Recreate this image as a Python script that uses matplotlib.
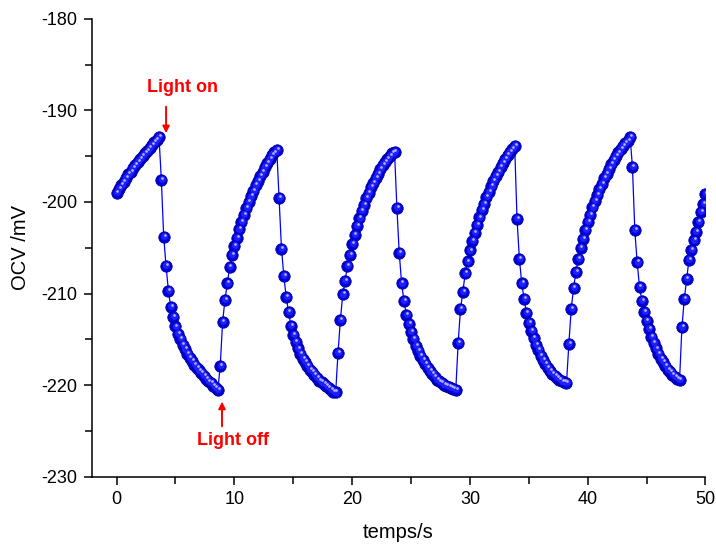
import numpy as np
import matplotlib
matplotlib.use("Agg")
import matplotlib.pyplot as plt
from matplotlib.ticker import MultipleLocator
from matplotlib.transforms import offset_copy

plt.rcParams["font.family"] = ["Liberation Sans", "DejaVu Sans"]
plt.rcParams["axes.unicode_minus"] = False

# sampling interval of the OCV recorder (s)
dt = 0.2

# OCV readings (mV), one list per light on / light off half cycle
rise_1 = [-199.0, -198.6, -198.2, -197.8, -197.4, -197.0, -196.7, -196.3, -196.0, -195.6,
          -195.3, -195.0, -194.7, -194.4, -194.1, -193.8, -193.5, -193.2, -192.9]
fall_1 = [-197.6, -203.8, -207.0, -209.7, -211.5, -212.6, -213.6, -214.4, -215.0, -215.6,
          -216.1, -216.6, -217.0, -217.4, -217.8, -218.1, -218.4, -218.7, -219.0, -219.3,
          -219.6, -219.8, -220.1, -220.3, -220.5]
rise_2 = [-217.9, -213.1, -210.7, -208.9, -207.1, -205.8, -204.8, -203.9, -203.0, -202.2,
          -201.4, -200.7, -200.0, -199.4, -198.8, -198.2, -197.7, -197.2, -196.7, -196.2,
          -195.7, -195.3, -194.9, -194.6, -194.3]
fall_2 = [-199.6, -205.1, -208.1, -210.4, -212.0, -213.5, -214.5, -215.3, -216.0, -216.6,
          -217.1, -217.5, -217.9, -218.3, -218.6, -218.9, -219.2, -219.5, -219.7, -219.9,
          -220.1, -220.3, -220.5, -220.7, -220.8]
rise_3 = [-216.5, -212.9, -210.1, -208.6, -207.0, -205.8, -204.6, -203.6, -202.6, -201.8,
          -201.0, -200.3, -199.6, -199.0, -198.4, -197.9, -197.4, -196.9, -196.4, -196.0,
          -195.6, -195.3, -195.0, -194.7, -194.5]
fall_3 = [-200.7, -205.6, -208.9, -210.8, -212.3, -213.3, -214.2, -215.0, -215.7, -216.3,
          -216.8, -217.3, -217.7, -218.1, -218.5, -218.8, -219.1, -219.4, -219.6, -219.8,
          -220.0, -220.1, -220.2, -220.3, -220.4, -220.5]
rise_4 = [-215.4, -211.7, -209.8, -207.8, -206.5, -205.3, -204.3, -203.4, -202.5, -201.7,
          -200.9, -200.2, -199.5, -198.9, -198.3, -197.7, -197.2, -196.7, -196.2, -195.7,
          -195.3, -194.9, -194.5, -194.2, -193.9]
fall_4 = [-201.9, -206.2, -208.9, -210.6, -212.1, -213.2, -214.1, -214.9, -215.6, -216.2,
          -216.8, -217.3, -217.7, -218.1, -218.5, -218.8, -219.0, -219.2, -219.4, -219.6,
          -219.7, -219.8]
rise_5 = [-215.5, -211.7, -209.4, -207.6, -206.2, -205.0, -204.0, -203.1, -202.2, -201.4,
          -200.6, -199.9, -199.2, -198.6, -198.0, -197.4, -196.9, -196.4, -195.9, -195.4,
          -195.0, -194.6, -194.2, -193.9, -193.6, -193.3, -192.9]
fall_5 = [-196.2, -203.1, -206.6, -209.3, -210.8, -212.0, -213.0, -213.9, -214.7, -215.4,
          -216.0, -216.6, -217.1, -217.5, -217.9, -218.3, -218.6, -218.9, -219.1, -219.3,
          -219.4]
rise_6 = [-213.7, -210.6, -208.4, -206.3, -205.2, -204.2, -203.3, -202.2, -201.1, -200.2,
          -199.1]

ocv = np.array(rise_1 + fall_1 + rise_2 + fall_2 + rise_3 + fall_3
               + rise_4 + fall_4 + rise_5 + fall_5 + rise_6)
t = np.arange(len(ocv)) * dt

fig = plt.figure(figsize=(7.16, 5.44), dpi=100)
ax = fig.add_axes([0.1278, 0.1237, 0.8575, 0.8419])

ax.plot(t, ocv, color="#0000ff", lw=0.9, zorder=2)
# shaded "sphere" markers: dark body, brighter core, small pale glint
ax.plot(t, ocv, ls="none", marker="o", ms=8.2, mfc="#0000d8", mec="#0000a0",
        mew=0.6, zorder=3)
ax.plot(t, ocv, ls="none", marker="o", ms=5.0, mfc="#2020ff", mec="none",
        zorder=4, transform=offset_copy(ax.transData, fig, x=0.3, y=0.6, units="points"))
ax.plot(t, ocv, ls="none", marker="o", ms=1.9, mfc="#b8b8ff", mec="none",
        zorder=5, transform=offset_copy(ax.transData, fig, x=0.6, y=1.4, units="points"))

ax.set_xlim(-2.13, 50)
ax.set_ylim(-230, -180)
ax.xaxis.set_major_locator(MultipleLocator(10))
ax.xaxis.set_minor_locator(MultipleLocator(5))
ax.yaxis.set_major_locator(MultipleLocator(10))
ax.yaxis.set_minor_locator(MultipleLocator(5))

for side in ("top", "right"):
    ax.spines[side].set_visible(False)
for side in ("left", "bottom"):
    ax.spines[side].set_linewidth(1.1)
ax.tick_params(which="both", direction="out", width=1.1, labelsize=13)
ax.tick_params(which="major", length=6, pad=4)
ax.tick_params(which="minor", length=5)

ax.set_xlabel("temps/s", fontsize=14.5, labelpad=11)
ax.set_ylabel("OCV /mV", fontsize=14.5, labelpad=8)

# light switching markers
arrow = dict(arrowstyle="-|>", color="red", lw=1.4, mutation_scale=10, shrinkA=0, shrinkB=0)
ax.annotate("", xy=(4.2, -192.5), xytext=(4.2, -189.6), arrowprops=arrow)
ax.text(5.6, -187.5, "Light on", ha="center", va="center", color="red",
        fontsize=13, fontweight="bold")
ax.annotate("", xy=(8.95, -221.8), xytext=(8.95, -224.5), arrowprops=arrow)
ax.text(9.9, -226.0, "Light off", ha="center", va="center", color="red",
        fontsize=13, fontweight="bold")

fig.savefig("out.png", dpi=100)
